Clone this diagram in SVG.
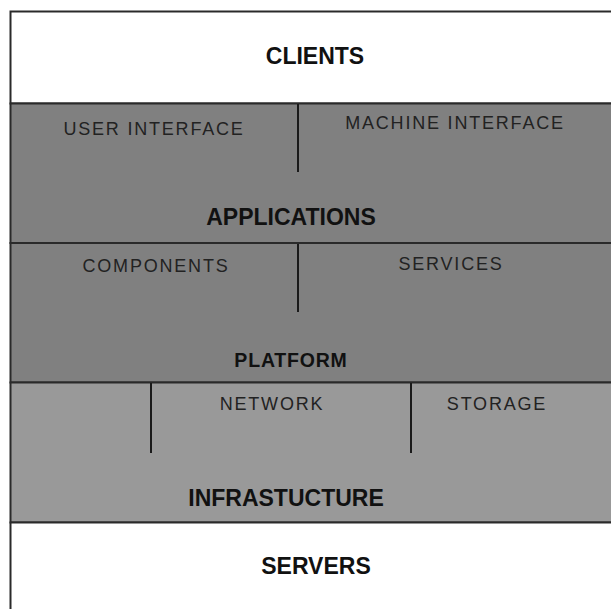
<svg xmlns="http://www.w3.org/2000/svg" width="611" height="609" viewBox="0 0 611 609">
  <style>
    .band { stroke: #2a2a2a; stroke-width: 2; }
    .div { stroke: #1a1a1a; stroke-width: 2; fill: none; }
    .title { font-family: "Liberation Sans", Arial, sans-serif; font-weight: bold; font-size: 23px; fill: #111; text-anchor: middle; }
    .ptitle { font-family: "Liberation Sans", Arial, sans-serif; font-weight: bold; font-size: 19.5px; fill: #111; text-anchor: middle; letter-spacing: 0.8px; }
    .lab { font-family: "Liberation Sans", Arial, sans-serif; font-size: 18px; fill: #222; text-anchor: middle; letter-spacing: 1.8px; }
  </style>
  <rect x="0" y="0" width="611" height="609" fill="#ffffff"/>
  <g id="clients">
    <rect class="band" x="10.5" y="11.5" width="620" height="92" fill="#ffffff"/>
    <text class="title" x="315" y="64">CLIENTS</text>
  </g>
  <g id="applications">
    <rect class="band" x="10.5" y="103.5" width="620" height="139.5" fill="#808080"/>
    <text class="lab" x="154" y="135">USER INTERFACE</text>
    <text class="lab" x="455" y="129">MACHINE INTERFACE</text>
    <text class="title" x="291" y="225">APPLICATIONS</text>
  </g>
  <g id="platform">
    <rect class="band" x="10.5" y="243" width="620" height="139.5" fill="#808080"/>
    <text class="lab" x="156" y="272">COMPONENTS</text>
    <text class="lab" x="451" y="270">SERVICES</text>
    <text class="ptitle" x="291" y="367">PLATFORM</text>
  </g>
  <g id="infrastructure">
    <rect class="band" x="10.5" y="382.5" width="620" height="140" fill="#999999"/>
    <text class="lab" x="272" y="410">NETWORK</text>
    <text class="lab" x="497" y="410">STORAGE</text>
    <text class="title" x="286" y="506">INFRASTUCTURE</text>
  </g>
  <g id="servers">
    <rect class="band" x="10.5" y="522.5" width="620" height="110" fill="#ffffff"/>
    <text class="title" x="316" y="574">SERVERS</text>
  </g>
  <g id="connectors">
    <line class="div" x1="298" y1="104" x2="298" y2="172"/>
    <line class="div" x1="298" y1="244" x2="298" y2="312"/>
    <line class="div" x1="151" y1="383" x2="151" y2="453"/>
    <line class="div" x1="411" y1="383" x2="411" y2="453"/>
  </g>
</svg>
